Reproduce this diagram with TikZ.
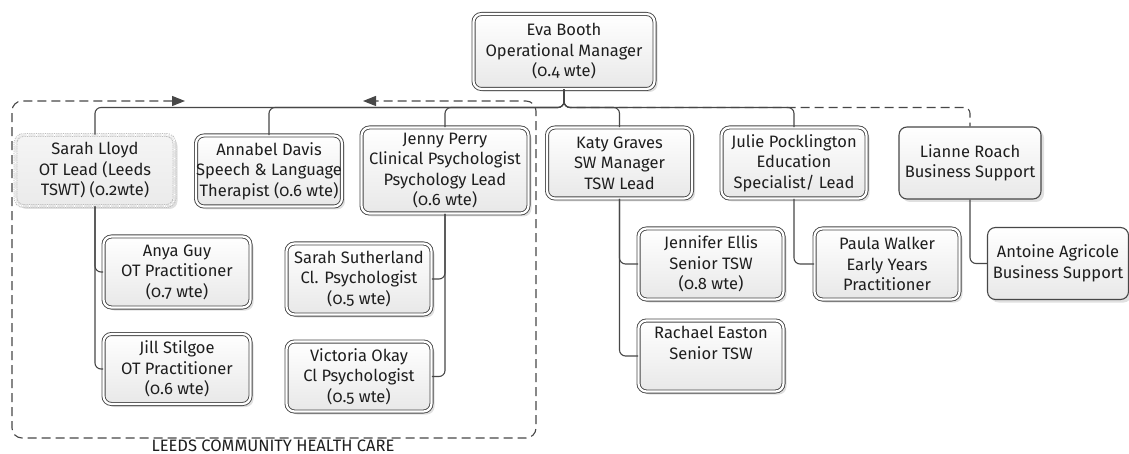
\documentclass[tikz,border=0pt]{standalone}
\usepackage{fontspec}
\setmainfont{Fira Sans}[Numbers=OldStyle]
\usetikzlibrary{arrows.meta,shadows,calc}
\definecolor{edge}{HTML}{474747}
\definecolor{fillbot}{HTML}{E8E8E8}
\definecolor{txt}{HTML}{1E1E1E}
\begin{document}
\begin{tikzpicture}[x=1pt,y=-1pt,
  font=\fontsize{16.5}{20.5}\selectfont,
  base/.style={rounded corners=8pt, top color=white, bottom color=fillbot,
    minimum width=145pt, minimum height=71pt, align=center, inner sep=0pt,
    text=txt,
    drop shadow={shadow xshift=3pt, shadow yshift=-3pt, opacity=0.12, fill=black}},
  person/.style={base, draw=edge, line width=0.9pt, double=white, double distance=2.2pt},
  single/.style={base, draw=edge, line width=1.1pt},
  dotbox/.style={base, draw=gray!60, line width=0.8pt, densely dotted, double=white,
    double distance=2.2pt, top color=gray!8, bottom color=gray!16},
  conn/.style={draw=edge, line width=1.1pt, rounded corners=6pt},
  dconn/.style={conn, dash pattern=on 9pt off 5pt},
  groupbox/.style={draw=edge, line width=1.1pt, rounded corners=10pt,
    dash pattern=on 9pt off 5pt,
    {Triangle[length=13pt,width=10pt]}-{Triangle[length=13pt,width=10pt]}}
]
\useasboundingbox (0,0) rectangle (1129,454);
\fill[white] (0,0) rectangle (1129,454);

% group frame
\draw[groupbox] (185,101) -| (12,438) -| (536,101) -- (363,101);
\node[anchor=base, inner sep=0pt, text=txt] (grp) at (273,451.5) {LEEDS COMMUNITY HEALTH CARE};

% nodes
\node[person, minimum width=181pt, minimum height=75pt] (eva) at (564,51.5)
  {Eva Booth\\Operational Manager\\(0.4 wte)};
\node[dotbox, minimum width=159pt] (sarah) at (95,170.5)
  {Sarah Lloyd\\OT Lead (Leeds\\TSWT) (0.2wte)};
\node[person, minimum width=145pt] (annabel) at (269,171)
  {Annabel Davis\\Speech \& Language\\Therapist (0.6 wte)};
\node[person, minimum width=167pt, minimum height=86pt] (jenny) at (445,170.5)
  {Jenny Perry\\Clinical Psychologist\\Psychology Lead\\(0.6 wte)};
\node[person] (katy) at (619.5,163) {Katy Graves\\SW Manager\\TSW Lead};
\node[person] (julie) at (794,163) {Julie Pocklington\\Education\\Specialist/ Lead};
\node[single, minimum width=142pt, minimum height=72pt] (lianne) at (970,163)
  {Lianne Roach\\Business Support};

\node[person, minimum width=147pt] (anya) at (177,272) {Anya Guy\\OT Practitioner\\(0.7 wte)};
\node[person, minimum width=147pt, minimum height=70pt] (jill) at (177,369) {Jill Stilgoe\\OT Practitioner\\(0.6 wte)};
\node[person] (suth) at (359,279) {Sarah Sutherland\\Cl. Psychologist\\(0.5 wte)};
\node[person, minimum height=70pt] (vic) at (359,376.5) {Victoria Okay\\Cl Psychologist\\(0.5 wte)};
\node[person] (jen) at (711,264) {Jennifer Ellis\\Senior TSW\\(0.8 wte)};
\node[person] (rach) at (711,356) {Rachael Easton\\Senior TSW\\\strut};
\node[person] (paula) at (887,264) {Paula Walker\\Early Years\\Practitioner};
\node[single, minimum width=141pt, minimum height=72pt] (ant) at (1058,263.5)
  {Antoine Agricole\\Business Support};

% connectors
\coordinate (bus) at (0,107.5);
\draw[dconn] (eva.south) |- (lianne.north |- bus) -- (lianne.north);
\draw[conn] (eva.south) |- (sarah.north |- bus) -- (sarah.north);
\draw[conn] (eva.south) |- (annabel.north |- bus) -- (annabel.north);
\draw[conn] (eva.south) |- (jenny.north |- bus) -- (jenny.north);
\draw[conn] (eva.south) |- (katy.north |- bus) -- (katy.north);
\draw[conn] (eva.south) |- (julie.north |- bus) -- (julie.north);

\draw[conn] (sarah.south) |- (anya.west);
\draw[conn] (sarah.south) |- (jill.west);
\draw[conn] (jenny.south) |- (suth.east);
\draw[conn] (jenny.south) |- (vic.east);
\draw[conn] (katy.south) |- (jen.west);
\draw[conn] (katy.south) |- (rach.west);
\draw[conn] (julie.south) |- (paula.west);
\draw[conn] (lianne.south) |- (ant.west);
\end{tikzpicture}
\end{document}
